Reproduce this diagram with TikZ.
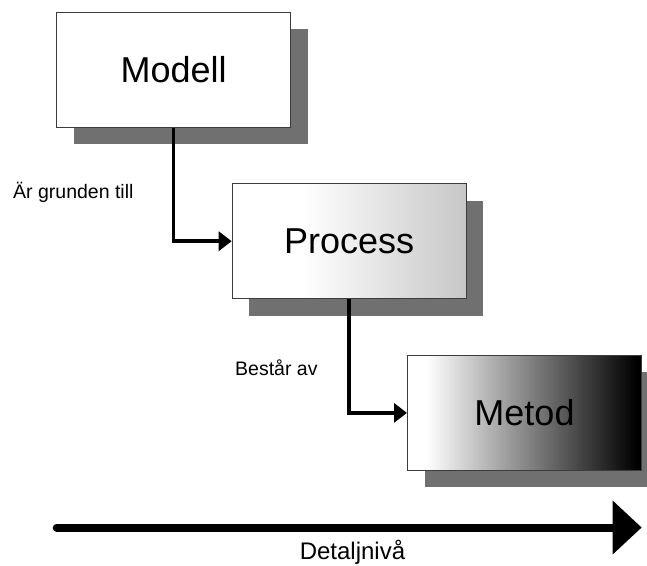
\documentclass[tikz,border=0pt]{standalone}
\usepackage{fontspec}
\setmainfont{Liberation Sans}
\usetikzlibrary{arrows.meta,shadows}

% horizontal fills: the node spans 25bp..75bp of each shading
\pgfdeclarehorizontalshading{processfill}{100bp}{color(0bp)=(white); color(40bp)=(white); color(75bp)=(black!22); color(100bp)=(black!22)}
\pgfdeclarehorizontalshading{metodfill}{100bp}{color(0bp)=(white); color(29bp)=(white); color(74bp)=(black); color(100bp)=(black)}

\definecolor{shadowgray}{RGB}{112,112,112}
\definecolor{edgegray}{RGB}{60,60,60}

\tikzset{
  levelbox/.style={draw=edgegray, line width=1pt, minimum width=234pt, minimum height=115pt,
    inner sep=0pt, font=\fontsize{36}{40}\selectfont,
    general shadow={fill=shadowgray, draw=none, shadow xshift=17pt, shadow yshift=-17pt}},
  link/.style={line width=3.5pt, -{Triangle[length=13pt,width=19pt]}},
  linklabel/.style={anchor=base west, inner sep=0pt, font=\fontsize{19.5}{22}\selectfont},
  scale arrow/.style={line width=8pt, line cap=round, -{Triangle[length=29pt,width=52pt]}}
}

\begin{document}
\begin{tikzpicture}[x=1pt, y=-1pt]
  \useasboundingbox (0,0) rectangle (647,565);

  % the three levels
  \node[levelbox, fill=white] (modell) at (173.7,69.8) {Modell};
  \node[levelbox, shading=processfill] (process) at (349.2,241.2) {Process};
  \node[levelbox, shading=metodfill] (metod) at (524.5,412.9) {Metod};

  % links between the levels
  \draw[link] (modell.south) |- (process.west);
  \draw[link] (process.south) |- (metod.west);

  \node[linklabel] (lblgrund) at (13,198.3) {Är grunden till};
  \node[linklabel] (lblbestar) at (235,375) {Består av};

  % level of detail axis
  \coordinate (axisstart) at (56.7,527.5);
  \coordinate (axisend) at (641.7,527.5);
  \draw[scale arrow] (axisstart) -- (axisend);
  \node[anchor=base, inner sep=0pt, font=\fontsize{24}{28}\selectfont] (axislabel) at (352.5,559.5) {Detaljnivå};
\end{tikzpicture}
\end{document}
